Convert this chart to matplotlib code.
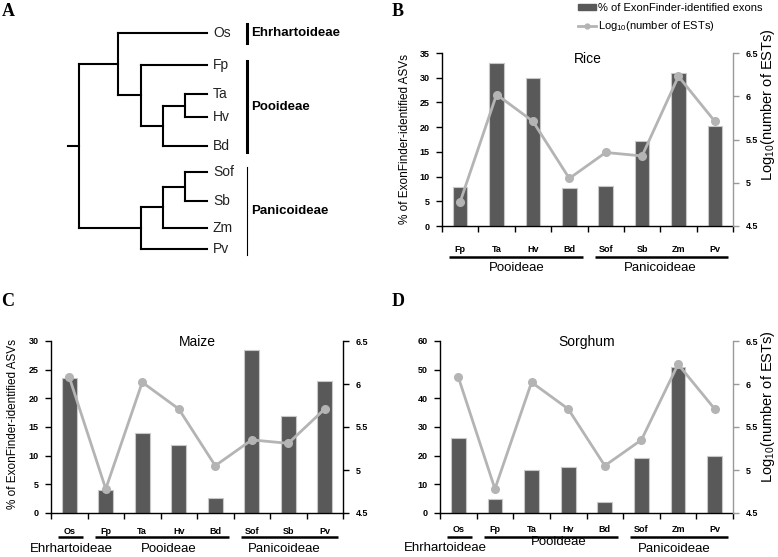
import numpy as np
import matplotlib
matplotlib.use('Agg')
import matplotlib.pyplot as plt
from matplotlib.patches import Patch
from matplotlib.lines import Line2D
from matplotlib.transforms import offset_copy

plt.rcParams['font.family'] = ['Liberation Sans', 'DejaVu Sans']
plt.rcParams['mathtext.fontset'] = 'custom'
plt.rcParams['mathtext.rm'] = 'Liberation Sans'

# log10(number of ESTs) per species - same line in B, C, D
est_species = ['Os', 'Fp', 'Ta', 'Hv', 'Bd', 'Sof', 'Sb', 'Zm', 'Pv']
est_log10 = [6.08, 4.78, 6.02, 5.71, 5.05, 5.35, 5.31, 6.23, 5.71]

# % of ExonFinder-identified ASVs
rice_species = ['Fp', 'Ta', 'Hv', 'Bd', 'Sof', 'Sb', 'Zm', 'Pv']
rice_pct = [7.9, 33.0, 29.9, 7.6, 8.0, 17.1, 31.0, 20.2]

maize_species = ['Os', 'Fp', 'Ta', 'Hv', 'Bd', 'Sof', 'Sb', 'Pv']
maize_pct = [23.6, 4.0, 14.0, 11.9, 2.6, 28.5, 17.0, 23.0]

sorghum_species = ['Os', 'Fp', 'Ta', 'Hv', 'Bd', 'Sof', 'Zm', 'Pv']
sorghum_pct = [26.1, 4.8, 15.1, 16.1, 3.9, 19.3, 50.9, 20.0]

rice_groups = [('Pooideae', 0, 3), ('Panicoideae', 4, 7)]
other_groups = [('Ehrhartoideae', 0, 0), ('Pooideae', 1, 4), ('Panicoideae', 5, 7)]

# cladogram (panel A)
tree = (('Os', ('Fp', (('Ta', 'Hv'), 'Bd'))), ((('Sof', 'Sb'), 'Zm'), 'Pv'))
clades = [('Ehrhartoideae', 24, 43, 2.2), ('Pooideae', 61, 152, 2.2), ('Panicoideae', 167, 255, 0.8)]

W, H = 778, 557
fig = plt.figure(figsize=(W / 100, H / 100), dpi=100)

def px_rect(x0, y0, x1, y1):
    return [x0 / W, 1 - y1 / H, (x1 - x0) / W, (y1 - y0) / H]

# ---------------- A: tree, drawn in pixel units ----------------
axt = fig.add_axes([0, 0, 1, 1])
axt.set_xlim(0, W)
axt.set_ylim(H, 0)
axt.axis('off')

leaf_y = {'Os': 33, 'Fp': 65, 'Ta': 94, 'Hv': 117, 'Bd': 146,
          'Sof': 172, 'Sb': 201, 'Zm': 228, 'Pv': 249}
tip_x = 207
node_x = {1: 185, 2: 163, 3: 141, 4: 118, 5: 79}

def draw_clade(c):
    if isinstance(c, str):
        axt.text(tip_x + 6, leaf_y[c], c, fontsize=10, color='#222222', va='center', ha='left')
        return tip_x, leaf_y[c], 0
    kids = [draw_clade(k) for k in c]
    h = max(k[2] for k in kids) + 1
    x = node_x[h]
    ys = [k[1] for k in kids]
    axt.plot([x, x], [min(ys), max(ys)], color='k', lw=1.5, solid_capstyle='projecting')
    for kx, ky, _ in kids:
        axt.plot([x, kx], [ky, ky], color='k', lw=1.5, solid_capstyle='projecting')
    return x, np.mean(ys), h

rx, ry, _ = draw_clade(tree)
axt.plot([68, rx], [ry, ry], color='k', lw=1.5)

for name, y0, y1, lw in clades:
    axt.plot([247, 247], [y0, y1], color='k', lw=lw)
    axt.text(251, (y0 + y1) / 2, name, fontsize=9.5, fontweight='bold', va='center', ha='left')

# ---------------- bar + line panels ----------------
def panel(rect, species, pct, ymax, ystep, title, title_y, groups,
          lab_off, line_off, name_offs, name_shift, right_color):
    ax = fig.add_axes(rect)
    x = np.arange(len(species))
    ax.bar(x, pct, width=0.4, color='#595959', edgecolor='#c8c8c8', linewidth=0.8, zorder=2)
    ax.set_xlim(-0.5, len(species) - 0.5)
    ax.set_ylim(0, ymax)
    ax.set_yticks(np.arange(0, ymax + 1, ystep))
    ax.set_xticks(np.arange(-0.5, len(species)))
    ax.set_xticklabels([])
    ax.tick_params(axis='x', length=4, width=1)
    ax.tick_params(axis='y', length=4, width=1, labelsize=6.5, pad=5)
    for t in ax.get_yticklabels():
        t.set_fontweight('bold')
    for s in ['top', 'right']:
        ax.spines[s].set_visible(False)
    ax.spines['left'].set_linewidth(1)
    ax.spines['bottom'].set_linewidth(1)

    ax2 = ax.twinx()
    vals = [est_log10[est_species.index(s)] for s in species]
    ax2.plot(x, vals, color='#b4b4b4', lw=2, marker='o', ms=5.5, zorder=3)
    ax2.set_ylim(4.5, 6.5)
    ax2.set_yticks([4.5, 5, 5.5, 6, 6.5])
    ax2.set_yticklabels(['4.5', '5', '5.5', '6', '6.5'], fontsize=6.5, fontweight='bold')
    ax2.tick_params(axis='y', length=4, width=1, pad=5, color=right_color)
    for s in ['top', 'left', 'bottom']:
        ax2.spines[s].set_visible(False)
    ax2.spines['right'].set_color(right_color)
    ax2.spines['right'].set_linewidth(1)

    ax.text(0.5, title_y, title, transform=ax.transAxes, ha='center', va='center', fontsize=10)

    base = ax.get_xaxis_transform()
    tl = offset_copy(base, fig=fig, y=-lab_off, units='dots')
    for i, s in enumerate(species):
        ax.text(i, 0, s, transform=tl, ha='center', va='center', fontsize=6.5, fontweight='bold')
    tline = offset_copy(base, fig=fig, y=-line_off, units='dots')
    for (name, a, b), noff, nsh in zip(groups, name_offs, name_shift):
        ax.plot([a - 0.3, b + 0.37], [0, 0], transform=tline, color='k', lw=1.8,
                clip_on=False, solid_capstyle='butt')
        tn = offset_copy(base, fig=fig, y=-noff, units='dots')
        ax.text((a + b) / 2 + nsh, 0, name, transform=tn, ha='center', va='center', fontsize=9.5)
    return ax, ax2

panel(px_rect(442, 53, 733, 226), rice_species, rice_pct, 35, 5, 'Rice', 0.965,
      rice_groups, 23, 31, [42, 42], [0.05, 0.0], '#999999')
panel(px_rect(51, 341, 343, 513), maize_species, maize_pct, 30, 5, 'Maize', 0.995,
      other_groups, 18, 24, [36, 36, 36], [0.05, 0.23, -0.1], 'k')
panel(px_rect(440, 341, 733, 513), sorghum_species, sorghum_pct, 60, 10, 'Sorghum', 0.995,
      other_groups, 16, 24, [35, 29, 36], [-0.34, 0.25, -0.1], '#999999')

ylab = '% of ExonFinder-identified ASVs'
rlab = 'Log$_{10}$(number of ESTs)'
fig.text(405 / W, 1 - 139 / H, ylab, rotation=90, ha='center', va='center', fontsize=8.5)
fig.text(13 / W, 1 - 424 / H, ylab, rotation=90, ha='center', va='center', fontsize=8.5)
fig.text(768 / W, 1 - 105 / H, rlab, rotation=90, ha='center', va='center', fontsize=10.5)
fig.text(768 / W, 1 - 407 / H, rlab, rotation=90, ha='center', va='center', fontsize=10.5)

handles = [Patch(facecolor='#595959', edgecolor='#595959'),
           Line2D([], [], color='#b4b4b4', lw=2, marker='o', ms=3.5)]
fig.legend(handles, ['% of ExonFinder-identified exons', 'Log$_{10}$(number of ESTs)'],
           loc='upper left', bbox_to_anchor=(578 / W, 1 - 3 / H), frameon=False,
           fontsize=8, handlelength=1.6, handleheight=0.5, handletextpad=0.2,
           labelspacing=0.55, borderaxespad=0, borderpad=0)

for lab, x, y in [('A', 8, 11), ('B', 398, 11), ('C', 8, 302), ('D', 398, 302)]:
    fig.text(x / W, 1 - y / H, lab, fontsize=13, fontweight='bold',
             family='Liberation Serif', ha='center', va='center')

fig.savefig('out.png', dpi=100)
